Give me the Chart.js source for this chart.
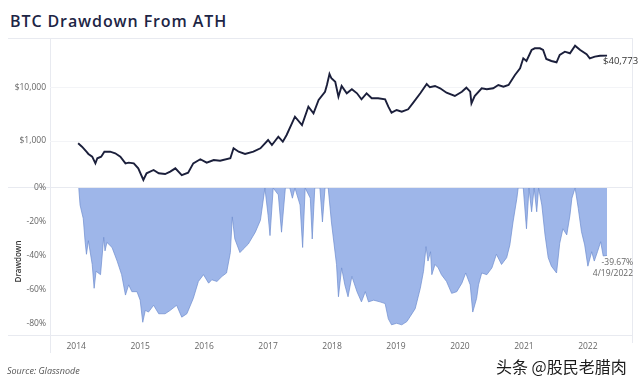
<!DOCTYPE html>
<html><head><meta charset="utf-8">
<script src="https://cdn.jsdelivr.net/npm/chart.js@4.4.1/dist/chart.umd.min.js"></script>
<style>
html,body{margin:0;padding:0;background:#fff;width:640px;height:384px;overflow:hidden;font-family:"Open Sans",sans-serif;}
#title{position:absolute;left:10px;top:10px;font-size:16px;font-weight:600;letter-spacing:0.9px;color:#1d2545;white-space:nowrap;}
.ln{position:absolute;background:#e8eaf0;}
#src{position:absolute;left:7px;top:364px;font-size:9px;font-style:italic;color:#555;}
#wm{position:absolute;left:496px;top:354px;font-size:16px;font-family:"Noto Sans CJK SC",sans-serif;color:#1c1c1c;text-shadow:0 0 2px #fff,0 0 2px #fff;white-space:nowrap;}
canvas{position:absolute;}
</style>
</head><body>
<div id="title">BTC Drawdown From ATH</div>
<div class="ln" style="left:8px;top:38px;width:624px;height:1px"></div>
<div class="ln" style="left:8px;top:187px;width:624px;height:1px"></div>
<div class="ln" style="left:8px;top:335px;width:624px;height:1px"></div>
<div class="ln" style="left:50px;top:38px;width:1px;height:315px"></div>
<div class="ln" style="left:632px;top:38px;width:1px;height:305px"></div>
<canvas id="top" width="632" height="149" style="left:8px;top:38px"></canvas>
<canvas id="bot" width="632" height="182" style="left:8px;top:178px"></canvas>
<div id="src">Source: Glassnode</div>
<div id="wm">头条 @股民老腊肉</div>
<script>
// ---- data ----
const yearTicks = [2014, 2015, 2016, 2017, 2018, 2019, 2020, 2021, 2022];
const priceTicks = [1000, 10000];
const ddTicks = [0, -20, -40, -60, -80];

const priceYears = [2014.03,2014.09,2014.16,2014.19,2014.25,2014.30,2014.33,2014.39,2014.44,2014.53,2014.61,2014.69,2014.77,2014.82,2014.90,2014.97,
2015.05,2015.10,2015.21,2015.29,2015.39,2015.47,2015.55,2015.65,2015.75,2015.83,2015.94,
2016.04,2016.15,2016.25,2016.41,2016.46,2016.54,2016.64,2016.77,2016.88,
2017.00,2017.06,2017.16,2017.23,2017.29,2017.42,2017.53,2017.63,2017.71,2017.79,2017.89,2017.92,2017.96,2017.99,
2018.05,2018.10,2018.15,2018.23,2018.31,2018.39,2018.46,2018.54,2018.62,2018.72,2018.83,2018.88,2018.93,
2019.01,2019.09,2019.19,2019.27,2019.38,2019.48,2019.53,2019.61,2019.69,2019.79,2019.92,
2020.03,2020.10,2020.16,2020.18,2020.23,2020.34,2020.42,2020.52,2020.60,2020.68,2020.76,2020.86,2020.94,2020.99,
2021.04,2021.12,2021.17,2021.25,2021.30,2021.35,2021.43,2021.51,2021.56,2021.64,2021.72,2021.80,2021.88,2021.98,
2022.03,2022.11,2022.19,2022.30];
const priceValues = [906,780,628,569,506,379,472,506,628,628,586,506,379,390,379,305,
184,246,284,246,238,264,305,228,252,379,452,
390,438,425,472,728,628,569,628,728,
1045,841,1205,970,1298,2873,2004,4436,3334,5938,8500,11400,18370,15240,
13150,6850,10900,7940,9450,7940,6120,7940,6390,6390,6120,4436,3420,
3845,3570,3960,5280,7940,11900,10310,10900,9870,8150,7060,
8510,10130,8510,5140,7060,9870,9450,9870,11390,10580,11390,17590,23540,36340,
32300,52120,56100,56100,52120,35250,32300,30550,41960,48400,45160,62810,52120,43250,
36340,38960,40620,40773];

const ddYears = [2014.04,2014.06,2014.11,2014.14,2014.16,2014.19,2014.25,2014.28,2014.31,2014.38,2014.43,2014.45,2014.48,2014.56,2014.64,2014.71,2014.77,2014.82,2014.87,2014.95,
2015.00,2015.04,2015.08,2015.13,2015.21,2015.29,2015.39,2015.47,2015.57,2015.65,2015.73,2015.83,2015.91,2015.99,
2016.07,2016.12,2016.20,2016.28,2016.35,2016.41,2016.44,2016.48,2016.56,2016.61,2016.69,2016.80,2016.88,2016.95,
2017.00,2017.03,2017.08,2017.16,2017.21,2017.27,2017.34,2017.38,2017.42,2017.50,2017.54,2017.58,2017.66,2017.69,2017.73,2017.81,2017.85,2017.89,2017.94,2017.99,
2018.07,2018.10,2018.15,2018.20,2018.25,2018.31,2018.39,2018.46,2018.52,2018.57,2018.65,2018.75,2018.83,2018.88,2018.93,
2019.01,2019.09,2019.17,2019.22,2019.30,2019.38,2019.43,2019.47,2019.50,2019.54,2019.56,2019.61,2019.66,2019.71,2019.79,2019.87,2019.95,
2020.03,2020.09,2020.16,2020.20,2020.26,2020.29,2020.34,2020.42,2020.50,2020.57,2020.65,2020.73,2020.78,2020.83,2020.89,2020.91,2020.99,
2021.04,2021.08,2021.12,2021.16,2021.20,2021.23,2021.28,2021.33,2021.38,2021.43,2021.51,2021.56,2021.61,2021.67,2021.72,2021.75,2021.80,2021.85,2021.90,2021.95,
2022.00,2022.06,2022.10,2022.15,2022.20,2022.24,2022.30];
const ddValues = [0,-10,-18,-32,-39,-31,-45,-59,-49,-51,-29,-37,-32,-35,-43,-51,-63,-57,-61,-61,
-66,-79,-72,-73,-69,-74,-74,-72,-69,-76,-74,-65,-55,-51,
-56,-54,-55,-52,-50,-38,-17,-30,-38,-36,-33,-26,-19,0,
-16,-28,0,-4,-26,0,0,-6,0,-10,-35,0,-6,-30,0,0,-20,0,0,-20,
-45,-64,-47,-57,-64,-52,-61,-67,-61,-67,-66,-67,-68,-77,-80.5,
-79.6,-80.5,-78.6,-75.7,-71,-59,-49,-34.5,-43,-37.5,-51,-45,-47,-51,-55,-62,-61,
-56,-50,-57,-73,-65,-57,-50,-51,-47,-39,-45,-41,-33.5,-20,-6,0,0,
-24,0,-14,0,-14,0,-10,-27.6,-41,-46,-50,-32.5,-24,-27.6,-16,-6,0,-12,-25.7,-33.5,
-46,-37.5,-43,-37.5,-31.6,-40,-39.67];

const lastPriceLabel = '$40,773';
const lastDDLabel = '-39.67%';
const lastDateLabel = '4/19/2022';

const xMin = 2013.59, xMax = 2022.69;
const FONT = 'Open Sans';

const endLabelTop = {
  id: 'endLabelTop',
  afterDatasetsDraw(chart) {
    const pts = chart.getDatasetMeta(0).data;
    const p = pts[pts.length - 1];
    const ctx = chart.ctx;
    ctx.save();
    ctx.font = '9.5px ' + FONT;
    ctx.fillStyle = '#333';
    ctx.textAlign = 'left';
    ctx.textBaseline = 'middle';
    ctx.fillText(lastPriceLabel, p.x - 4, p.y + 6);
    ctx.restore();
  }
};
const endLabelBot = {
  id: 'endLabelBot',
  afterDatasetsDraw(chart) {
    const pts = chart.getDatasetMeta(0).data;
    const p = pts[pts.length - 1];
    const ctx = chart.ctx;
    ctx.save();
    ctx.font = '8.5px ' + FONT;
    ctx.fillStyle = '#666';
    ctx.textAlign = 'right';
    ctx.textBaseline = 'middle';
    ctx.fillText(lastDDLabel, p.x + 26, p.y + 7);
    ctx.fillText(lastDateLabel, p.x + 26, p.y + 18);
    ctx.restore();
  }
};

new Chart(document.getElementById('top'), {
  type: 'line',
  data: { datasets: [{
    data: priceYears.map((x, i) => ({ x, y: priceValues[i] })),
    borderColor: '#1b1f3b', borderWidth: 1.9, pointRadius: 0, tension: 0, fill: false
  }]},
  options: {
    responsive: false, animation: false, events: [],
    layout: { padding: { left: 0, top: 0, bottom: 0, right: 8 } },
    plugins: { legend: { display: false }, tooltip: { enabled: false } },
    scales: {
      x: { type: 'linear', min: xMin, max: xMax, display: false },
      y: {
        type: 'logarithmic', min: 135.6, max: 87700,
        afterBuildTicks: s => { s.ticks = priceTicks.map(v => ({ value: v })); },
        afterFit: s => { s.width = 42; s.paddingTop = 0; s.paddingBottom = 0; },
        grid: { color: '#f3f4f7', drawTicks: false },
        border: { display: false },
        ticks: { padding: 4, color: '#666', font: { size: 8.5, family: FONT },
          callback: v => '$' + Number(v).toLocaleString('en-US') }
      }
    }
  },
  plugins: [endLabelTop]
});

new Chart(document.getElementById('bot'), {
  type: 'line',
  data: { datasets: [{
    data: ddYears.map((x, i) => ({ x, y: ddValues[i] })),
    borderColor: 'rgba(112,142,208,0.9)', borderWidth: 0.8,
    backgroundColor: 'rgb(158,182,233)',
    pointRadius: 0, tension: 0, fill: 'origin'
  }]},
  options: {
    responsive: false, animation: false, events: [],
    layout: { padding: { top: 10, right: 8, left: 0, bottom: 0 } },
    plugins: { legend: { display: false }, tooltip: { enabled: false } },
    scales: {
      x: {
        type: 'linear', min: xMin, max: xMax,
        afterBuildTicks: s => { s.ticks = yearTicks.map(v => ({ value: v })); },
        afterFit: s => { s.height = 25; s.paddingLeft = 0; s.paddingRight = 0; },
        grid: { display: false, drawTicks: false },
        border: { display: false },
        ticks: { padding: 6, color: '#666', font: { size: 8.5, family: FONT },
          maxRotation: 0, autoSkip: false, callback: v => String(v) }
      },
      y: {
        min: -86.5, max: 0,
        afterBuildTicks: s => { s.ticks = ddTicks.map(v => ({ value: v })); },
        afterFit: s => { s.width = 42; s.paddingTop = 0; s.paddingBottom = 0; },
        grid: { display: false, drawTicks: false },
        border: { display: false },
        ticks: { padding: 4, color: '#666', font: { size: 8.5, family: FONT },
          callback: v => v + '%' },
        title: { display: true, text: 'Drawdown', color: '#333',
          font: { size: 8, weight: '600', family: FONT }, padding: { top: 6, bottom: 0 } }
      }
    }
  },
  plugins: [endLabelBot]
});
</script>
</body></html>
